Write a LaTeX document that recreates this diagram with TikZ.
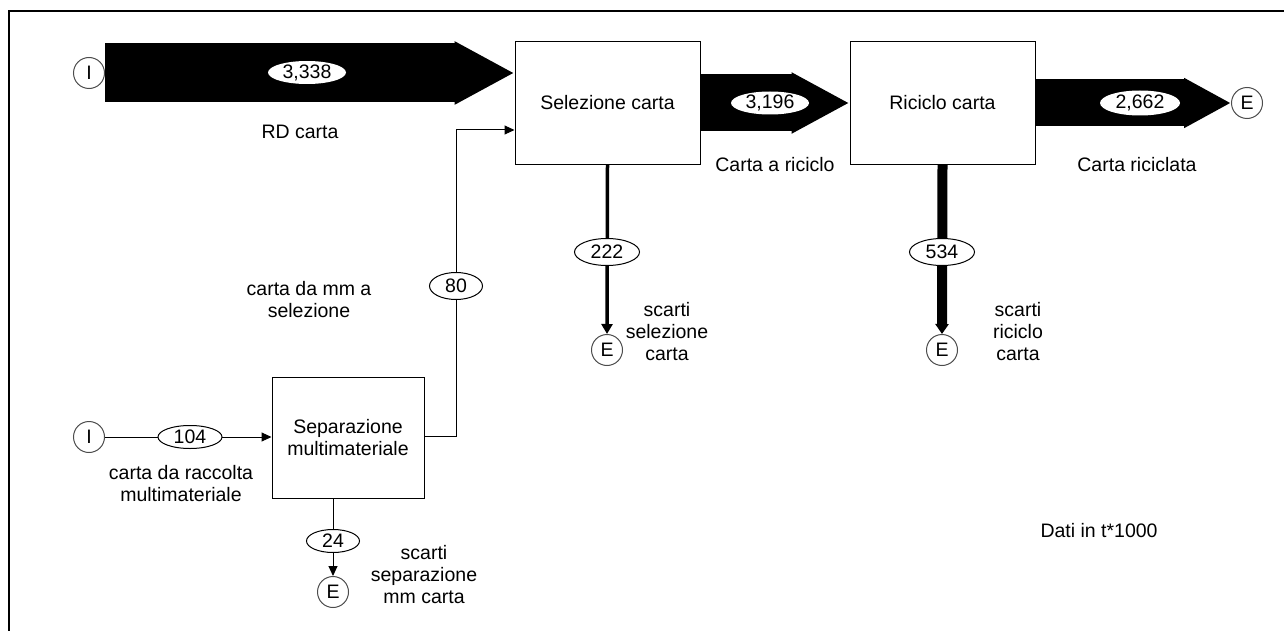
\documentclass[tikz,border=0pt]{standalone}
\usepackage{fontspec}
\setmainfont{Liberation Sans}
\usetikzlibrary{arrows.meta,shapes.geometric}

\begin{document}
\begin{tikzpicture}[x=0.5pt, y=-0.5pt, line width=0.5pt,
    font=\fontsize{9.75}{11}\selectfont,
    term/.style={circle, draw=black!70, minimum size=15.5pt, inner sep=0pt},
    proc/.style={rectangle, draw, fill=white, inner sep=2pt, align=center},
    qty/.style={ellipse, draw, fill=white, inner sep=0pt},
    note/.style={align=center, inner sep=0pt},
    thin/.style={-{Triangle[length=5pt, width=4.5pt]}},
    fat/.style={-{Triangle[length=#1, width=0pt 1]}}]

  % page and frame (only the top and left edges are seen)
  \useasboundingbox (0,0) rectangle (1284,631);
  \draw[line width=1pt] (9,631) -- (9,11) -- (1284,11);

  % processes
  \node[proc, minimum width=92.5pt, minimum height=61pt] (sel) at (607.5,103) {Selezione carta};
  \node[proc, minimum width=92.5pt, minimum height=61pt] (ric) at (942.5,103) {Riciclo carta};
  \node[proc, minimum width=76pt, minimum height=60.5pt] (sep) at (348,437.5) {Separazione\\multimateriale};

  % sources and sinks
  \node[term] (inRD) at (89,73) {I};
  \node[term] (inMM) at (89,437) {I};
  \node[term] (outRic) at (1247,103) {E};
  \node[term] (outSel) at (607,350) {E};
  \node[term] (outRic2) at (942,350) {E};
  \node[term] (outSep) at (333,592) {E};

  % broad flows, band width gives the quantity
  \draw[line width=29.5pt, fat=30pt] (inRD.east) -- (sel.west |- inRD);
  \draw[line width=28.5pt, fat=29pt] (sel.east |- 0,103) -- (ric.west |- 0,103);
  \draw[line width=23.5pt, fat=23.5pt] (ric.east |- outRic) -- (outRic.west);
  \draw[line width=5pt, -{Triangle[length=5pt, width=6.5pt]}] (ric.south) -- (outRic2.north);
  \draw[line width=1.75pt, -{Triangle[length=5pt, width=5.5pt]}] (sel.south) -- (outSel.north);

  % thin flows
  \coordinate (turn) at (456,130);
  \draw[thin] (sep.east |- 0,436) -| (turn) -- (sel.west |- turn);
  \draw[thin] (inMM.east) -- (sep.west |- inMM);
  \draw[thin] (sep.south -| outSep) -- (outSep.north);

  % quantities
  \node[qty, draw=none, minimum width=39pt, minimum height=11.5pt] (q3338) at (307,72.5) {3,338};
  \node[qty, draw=none, minimum width=39pt, minimum height=11.5pt] (q3196) at (770,103) {3,196};
  \node[qty, draw=none, minimum width=40pt, minimum height=12.5pt] (q2662) at (1140,103) {2,662};
  \node[qty, minimum width=32.5pt, minimum height=13.5pt] (q222) at (607,252) {222};
  \node[qty, minimum width=32.5pt, minimum height=13.5pt] (q534) at (942,252) {534};
  \node[qty, minimum width=26.5pt, minimum height=13.5pt] (q80) at (456,286) {80};
  \node[qty, minimum width=32pt, minimum height=11.5pt] (q104) at (190,437) {104};
  \node[qty, minimum width=26.5pt, minimum height=11.5pt] (q24) at (333,541) {24};

  % flow names
  \node[note] (nRD) at (300,132) {RD carta};
  \node[note] (nRic) at (775,165) {Carta a riciclo};
  \node[note] (nOut) at (1137,165) {Carta riciclata};
  \node[note] (nMMsel) at (309,300) {carta da mm a\\selezione};
  \node[note] (nSel) at (667,332) {scarti\\selezione\\carta};
  \node[note] (nRic2) at (1018,332) {scarti\\riciclo\\carta};
  \node[note] (nMM) at (181,484) {carta da raccolta\\multimateriale};
  \node[note] (nSep) at (424,575) {scarti\\separazione\\mm carta};
  \node[note, anchor=west] (nDati) at (1040,531) {Dati in t*1000};

\end{tikzpicture}
\end{document}
